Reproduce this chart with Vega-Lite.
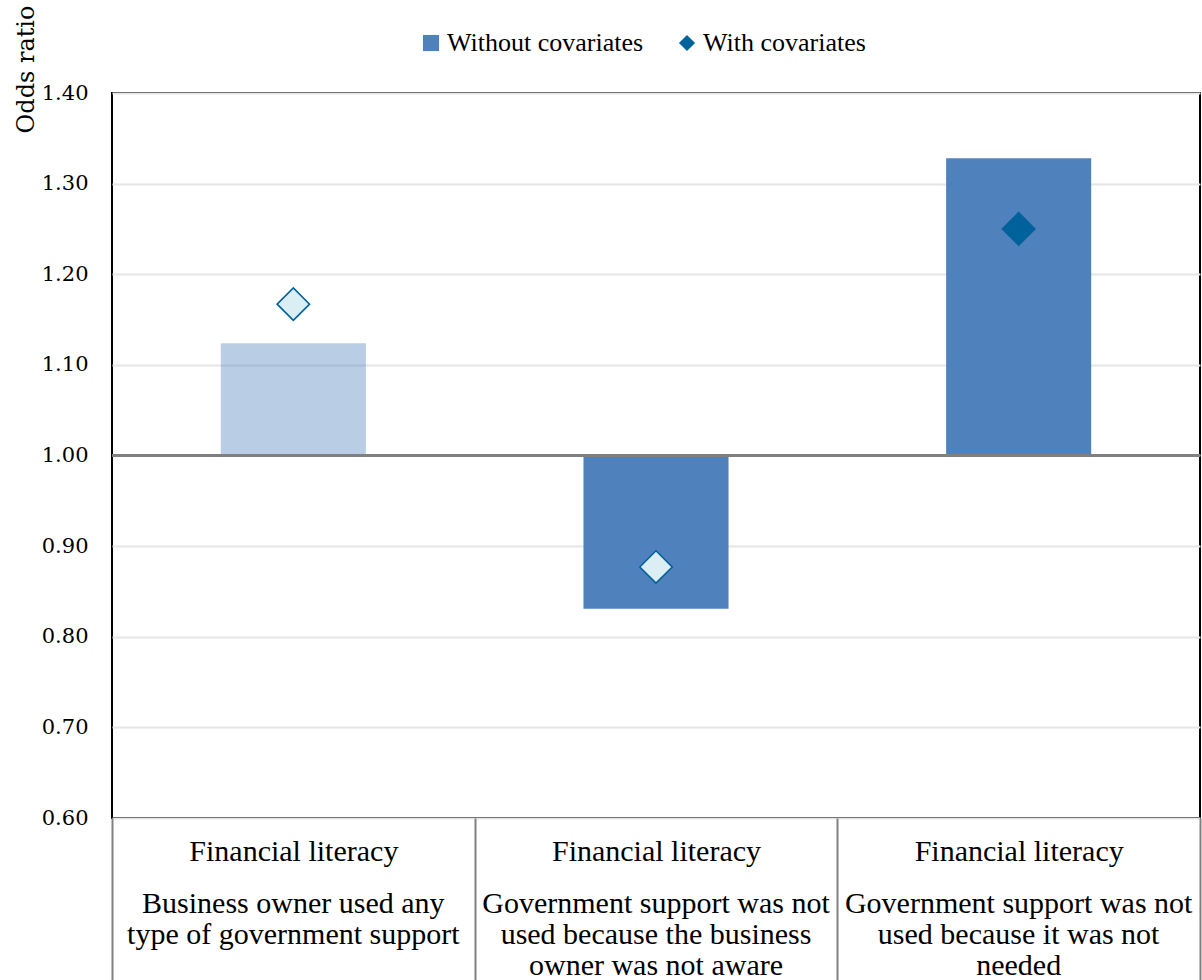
{
  "$schema": "https://vega.github.io/schema/vega-lite/v6.json",
  "width": 1088,
  "height": 725,
  "autosize": {"type": "none"},
  "padding": {"left": 112, "top": 93, "right": 2, "bottom": 162},
  "background": "white",
  "config": {
    "view": {"stroke": "black", "strokeWidth": 2},
    "font": "Liberation Serif"
  },
  "data": {
    "values": [
      {"category": "Financial literacy\nBusiness owner used any\ntype of government support", "series": "Without covariates", "odds": 1.124, "significant": false},
      {"category": "Financial literacy\nBusiness owner used any\ntype of government support", "series": "With covariates", "odds": 1.167, "significant": false},
      {"category": "Financial literacy\nGovernment support was not\nused because the business\nowner was not aware", "series": "Without covariates", "odds": 0.831, "significant": true},
      {"category": "Financial literacy\nGovernment support was not\nused because the business\nowner was not aware", "series": "With covariates", "odds": 0.877, "significant": false},
      {"category": "Financial literacy\nGovernment support was not\nused because it was not\nneeded", "series": "Without covariates", "odds": 1.328, "significant": true},
      {"category": "Financial literacy\nGovernment support was not\nused because it was not\nneeded", "series": "With covariates", "odds": 1.25, "significant": true}
    ]
  },
  "layer": [
    {
      "transform": [{"filter": "datum.series === 'Without covariates'"}],
      "mark": {"type": "bar", "width": {"band": 0.4}},
      "encoding": {
        "x": {
          "field": "category", "type": "nominal", "sort": null,
          "scale": {"type": "band", "paddingInner": 0, "paddingOuter": 0},
          "axis": {
            "orient": "bottom",
            "title": null,
            "domain": false,
            "ticks": true,
            "tickBand": "extent",
            "tickSize": 162,
            "tickColor": "#808080",
            "tickWidth": 2,
            "labelAngle": 0,
            "labelExpr": "split(datum.label, '\\n')[0]",
            "labelFont": "Liberation Serif",
            "labelFontSize": 30,
            "labelColor": "black",
            "labelBaseline": "top",
            "labelPadding": -144,
            "labelLimit": 400,
            "labelOverlap": false,
            "labelBound": false,
            "grid": false
          }
        },
        "y": {
          "field": "odds", "type": "quantitative",
          "scale": {"domain": [0.6, 1.4], "nice": false, "zero": false},
          "axis": {
            "title": "Odds ratio",
            "titleFont": "DejaVu Serif",
            "titleFontSize": 24,
            "titleFontWeight": "normal",
            "titleColor": "black",
            "titleAngle": -90,
            "titleAlign": "right",
            "titleBaseline": "middle",
            "titleX": -86,
            "titleY": -88,
            "values": [0.6, 0.7, 0.8, 0.9, 1.0, 1.1, 1.2, 1.3, 1.4],
            "format": ".2f",
            "labelFont": "DejaVu Serif",
            "labelFontSize": 21,
            "labelColor": "black",
            "labelPadding": 24,
            "ticks": false,
            "domain": false,
            "grid": true,
            "gridColor": "#e6e6e6",
            "gridWidth": 2
          }
        },
        "y2": {"datum": 1},
        "fill": {
          "field": "series", "type": "nominal",
          "scale": {"domain": ["Without covariates", "With covariates"], "range": ["#4f81bd", "#00629b"]},
          "legend": {
            "title": null,
            "orient": "none",
            "direction": "horizontal",
            "legendX": 306,
            "legendY": -63,
            "labelFont": "Liberation Serif",
            "labelFontSize": 26,
            "labelColor": "black",
            "labelLimit": 300,
            "symbolSize": 260,
            "symbolStrokeWidth": 0,
            "labelOffset": 3,
            "columnPadding": 30
          }
        },
        "opacity": {
          "field": "significant", "type": "nominal",
          "scale": {"domain": [true, false], "range": [1, 0.4]},
          "legend": null
        }
      }
    },
    {
      "mark": {"type": "rule", "color": "#808080", "strokeWidth": 2.5},
      "encoding": {"y": {"datum": 1}}
    },
    {
      "transform": [{"filter": "datum.series === 'With covariates'"}],
      "mark": {"type": "point", "filled": true, "stroke": "#00629b", "strokeWidth": 1.6, "opacity": 1, "size": 1050},
      "encoding": {
        "x": {
          "field": "category", "type": "nominal", "sort": null,
          "scale": {"type": "band", "paddingInner": 0, "paddingOuter": 0},
          "axis": {
            "orient": "bottom",
            "title": null,
            "domain": false,
            "ticks": false,
            "labelAngle": 0,
            "labelExpr": "slice(split(datum.label, '\\n'), 1)",
            "labelFont": "Liberation Serif",
            "labelFontSize": 30,
            "labelLineHeight": 31,
            "labelColor": "black",
            "labelBaseline": "top",
            "labelPadding": 70,
            "labelLimit": 400,
            "labelOverlap": false,
            "labelBound": false,
            "grid": false
          }
        },
        "y": {"field": "odds", "type": "quantitative", "scale": {"domain": [0.6, 1.4], "nice": false, "zero": false}},
        "shape": {
          "field": "series", "type": "nominal",
          "scale": {"domain": ["Without covariates", "With covariates"], "range": ["square", "diamond"]}
        },
        "fill": {
          "condition": {"test": "!datum.significant", "value": "#dbeef4"},
          "field": "series", "type": "nominal",
          "scale": {"domain": ["Without covariates", "With covariates"], "range": ["#4f81bd", "#00629b"]}
        }
      }
    }
  ],
  "resolve": {"scale": {"x": "independent"}, "axis": {"x": "independent", "y": "shared"}}
}
